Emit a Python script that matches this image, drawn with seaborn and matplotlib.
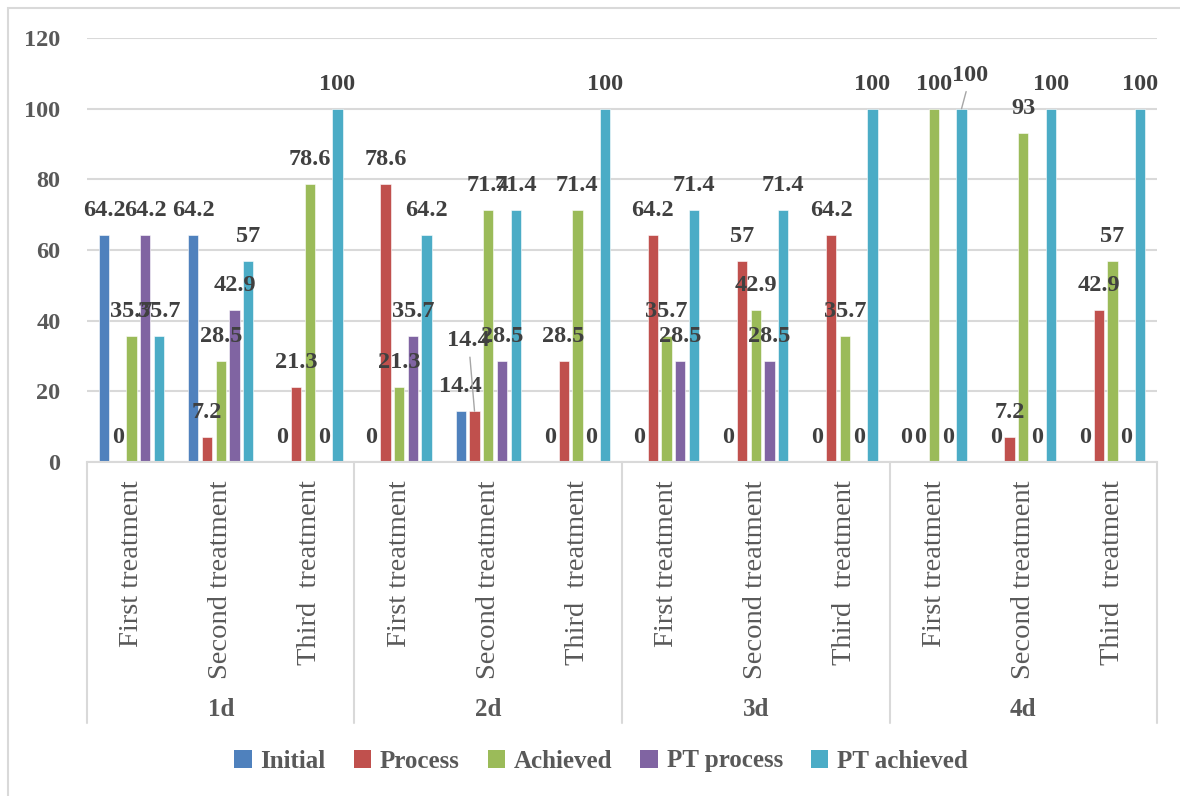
import numpy as np
import pandas as pd
import matplotlib
matplotlib.use("Agg")
import matplotlib.pyplot as plt
import matplotlib.transforms as mtransforms
from matplotlib.patches import Rectangle
from matplotlib.lines import Line2D
import seaborn as sns

# ---- data -------------------------------------------------------------
groups = ["1d", "2d", "3d", "4d"]
treatments = ["First treatment", "Second treatment", "Third  treatment"]
series = ["Initial", "Process", "Achieved", "PT process", "PT achieved"]
colors = ["#4F81BD", "#C0504D", "#9BBB59", "#8064A2", "#4BACC6"]

initial     = [64.2, 64.2, 0,    0,    14.4, 0,    0,    0,    0,    0,   0,   0]
process     = [0,    7.2,  21.3, 78.6, 14.4, 28.5, 64.2, 57,   64.2, 0,   7.2, 42.9]
achieved    = [35.7, 28.5, 78.6, 21.3, 71.4, 71.4, 35.7, 42.9, 35.7, 100, 93,  57]
pt_process  = [64.2, 42.9, 0,    35.7, 28.5, 0,    28.5, 28.5, 0,    0,   0,   0]
pt_achieved = [35.7, 57,   100,  64.2, 71.4, 100,  71.4, 71.4, 100,  100, 100, 100]

y_ticks = [0, 20, 40, 60, 80, 100, 120]

values = [initial, process, achieved, pt_process, pt_achieved]
n_cat = len(groups) * len(treatments)

df = pd.DataFrame({
    "slot": np.tile(np.arange(n_cat), len(series)),
    "series": np.repeat(series, n_cat),
    "value": np.concatenate(values),
})

# ---- style ------------------------------------------------------------
sns.set_style("white")
plt.rcParams["font.family"] = ["Liberation Serif", "DejaVu Serif"]
TEXT = "#595959"
LABEL = "#404040"
GRID = "#d9d9d9"
NUM_SIZE = 17.5

fig = plt.figure(figsize=(11.8, 7.96), dpi=100)
ax = fig.add_axes([87 / 1180, 1 - 462 / 796, (1157 - 87) / 1180, (462 - 38) / 796])

sns.barplot(data=df, x="slot", y="value", hue="series", hue_order=series,
            palette=colors, width=0.77, gap=0.25, saturation=1,
            edgecolor="white", linewidth=0.4, ax=ax)

ax.set_ylim(0, 120)
ax.set_xlim(-0.5, n_cat - 0.5)
ax.set_yticks(y_ticks)
ax.set_yticklabels([str(t) for t in y_ticks], fontsize=NUM_SIZE, fontweight="bold", color=TEXT)
ax.yaxis.grid(True, color=GRID, lw=1.5)
ax.set_axisbelow(True)
for s in ["top", "right", "left"]:
    ax.spines[s].set_visible(False)
ax.spines["bottom"].set_color(GRID)
ax.spines["bottom"].set_linewidth(1.5)
ax.tick_params(axis="y", length=0, pad=19)
ax.set_xlabel("")
ax.set_ylabel("")

# rotated treatment labels
ax.set_xticks(range(n_cat))
ax.set_xticklabels(treatments * len(groups), rotation=90, fontsize=20.5, color=TEXT)
ax.tick_params(axis="x", length=0, pad=13)

# group labels and separators of the two-level category axis
blend = mtransforms.blended_transform_factory(ax.transData, ax.transAxes)
y_sep = -(723 - 462) / 424
for g, name in enumerate(groups):
    center = g * len(treatments) + (len(treatments) - 1) / 2
    ax.text(center, -(710 - 462) / 424, name, transform=blend, ha="center",
            va="center", fontsize=18, fontweight="bold", color=TEXT)
for b in np.arange(len(groups) + 1) * len(treatments) - 0.5:
    ax.add_line(Line2D([b, b], [0, y_sep], transform=blend, color=GRID,
                       lw=1.5, clip_on=False))

# value labels above each bar
shifted = {(1, 4): (-6, 65), (4, 9): (9, 28)}
for i, cont in enumerate(ax.containers):
    for j, bar in enumerate(cont):
        v = values[i][j]
        xc = bar.get_x() + bar.get_width() / 2
        txt = f"{v:g}"
        if (i, j) in shifted:
            dx, dy = shifted[(i, j)]
            ax.annotate(txt, xy=(xc, v), xytext=(dx, dy), textcoords="offset pixels",
                        ha="center", va="baseline", fontsize=NUM_SIZE, fontweight="bold",
                        color=LABEL, annotation_clip=False,
                        arrowprops=dict(arrowstyle="-", color="#a6a6a6", lw=1,
                                        shrinkA=2, shrinkB=0))
        else:
            ax.annotate(txt, xy=(xc, v), xytext=(0, 19), textcoords="offset pixels",
                        ha="center", va="baseline", fontsize=NUM_SIZE, fontweight="bold",
                        color=LABEL, annotation_clip=False)

# legend
handles = [Rectangle((0, 0), 1, 1, facecolor=c, edgecolor="none") for c in colors]
ax.legend(handles, series, loc="center", bbox_to_anchor=((601 - 87) / 1070, -(761 - 462) / 424),
          ncol=5, frameon=False, handlelength=0.7, handleheight=0.7,
          handletextpad=0.35, columnspacing=1.12,
          prop={"size": 18, "weight": "bold"}, labelcolor=TEXT)

# chart-area border
fig.patches.append(Rectangle((8 / 1180, -0.1), 2, 1 - 8 / 796 + 0.1,
                             transform=fig.transFigure, fill=False,
                             edgecolor=GRID, lw=1.5))

fig.savefig("out.png", dpi=100, facecolor="white")
